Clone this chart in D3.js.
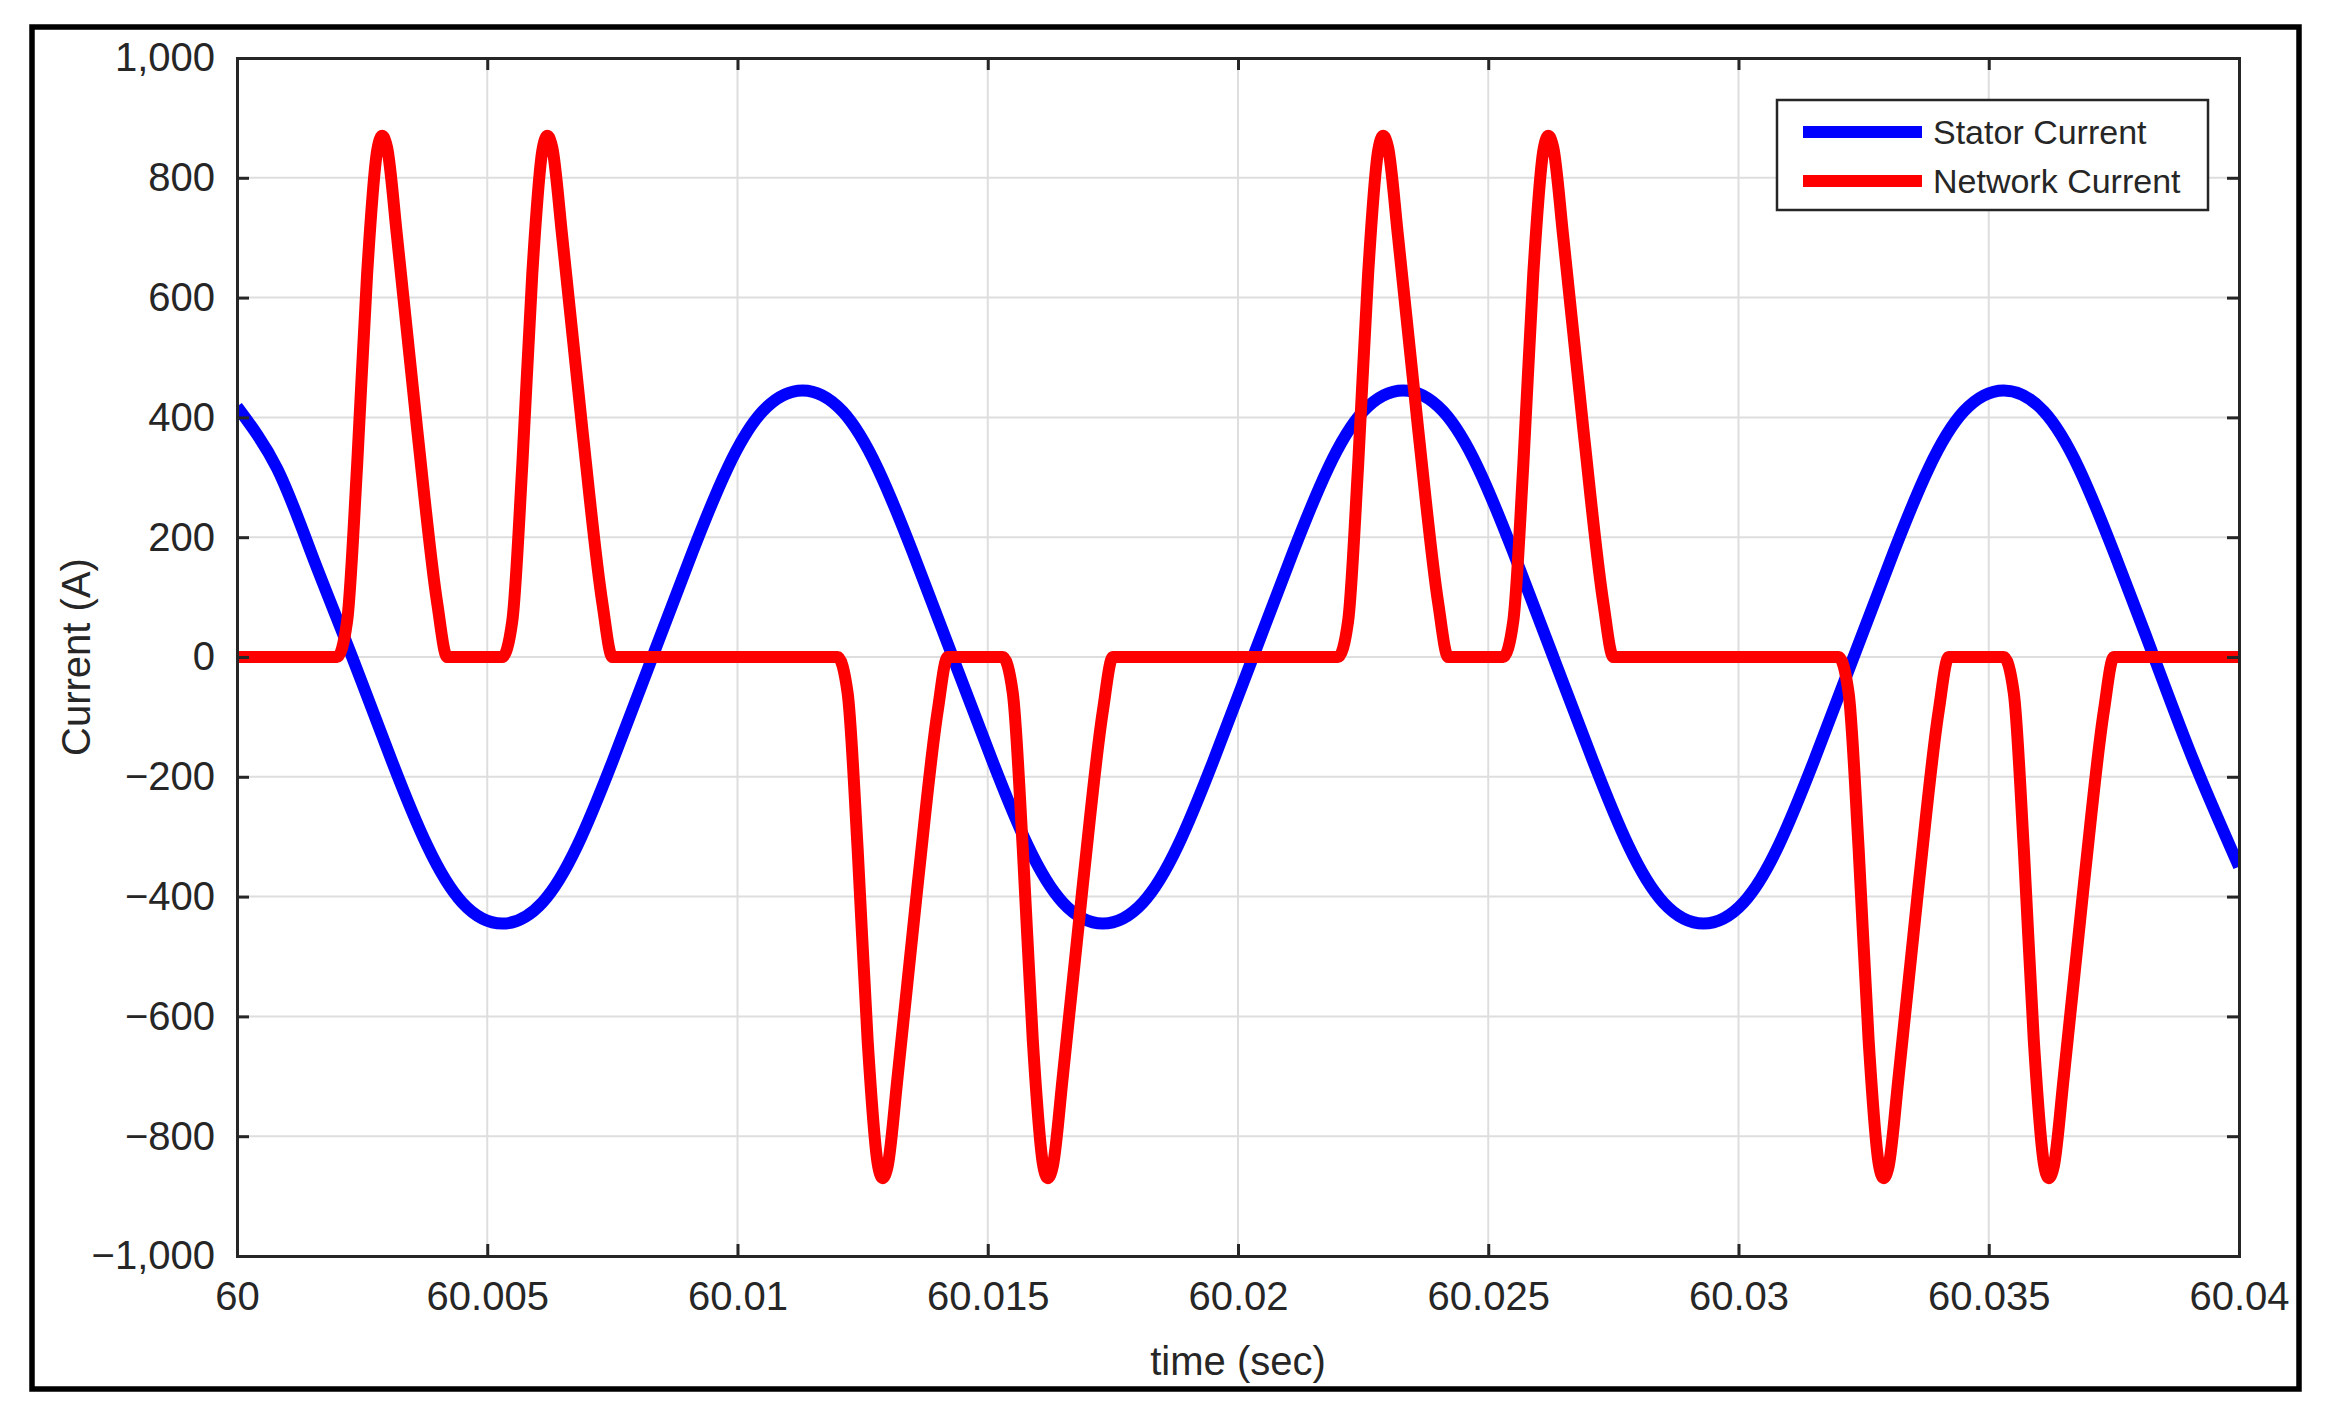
<!DOCTYPE html><html><head><meta charset="utf-8">
<script src="https://cdn.jsdelivr.net/npm/d3@7"></script>
<style>body{margin:0;background:#fff}svg{display:block}text{font-family:"Liberation Sans",Arial,sans-serif;fill:#262626}</style>
</head><body><svg id="c" width="2334" height="1426"></svg><script>
const xTicks=[60,60.005,60.01,60.015,60.02,60.025,60.03,60.035,60.04];
const xTickLabels=["60","60.005","60.01","60.015","60.02","60.025","60.03","60.035","60.04"];
const yTicks=[-1000,-800,-600,-400,-200,0,200,400,600,800,1000];
const seriesNames=["Stator Current","Network Current"];
const seriesColors=["#0000ff","#ff0000"];
// Stator current samples [time offset from 60 s, current A]
const statorT=[0,0.0008,0.0015,0.0023,0.0031,0.0038,0.0045,0.0053,0.0061,0.0068,0.0075,0.0083,0.0091,0.0098,0.0105,0.0113,0.0121,0.0128,0.0135,0.0143,0.0151,0.0158,0.0165,0.0173,0.0181,0.0188,0.0195,0.0203,0.0211,0.0218,0.0225,0.0233,0.0241,0.0248,0.0255,0.0263,0.0271,0.0278,0.0285,0.0293,0.0301,0.0308,0.0315,0.0323,0.0331,0.0338,0.0345,0.0353,0.0361,0.0368,0.0375,0.0383,0.0391,0.04];
const statorI=[418,315,170,0,-175,-315,-410,-445,-410,-315,-175,0,175,315,410,445,410,315,175,0,-175,-315,-410,-445,-410,-315,-175,0,175,315,410,445,410,315,175,0,-175,-315,-410,-445,-410,-315,-175,0,175,315,410,445,410,315,175,0,-175,-350];
// Network current pulse shape (offset s, current A) and pulse start times
const pulseOff=[0,0.0002,0.0004,0.0006,0.0008,0.0009,0.0010,0.0012,0.0016,0.0020,0.0022];
const pulseVal=[0,60,320,640,845,870,850,700,380,90,0];
const pulseStart=[0.0020,0.0053,0.0120,0.0153,0.0220,0.0253,0.0320,0.0353];
const pulseSign=[1,1,-1,-1,1,1,-1,-1];

const svg=d3.select("#c");
const L=237,T=58,R=2239,B=1256;
const x=d3.scaleLinear().domain([60,60.04]).range([L,R]);
const y=d3.scaleLinear().domain([-1000,1000]).range([B,T]);
svg.append("rect").attr("x",32).attr("y",27).attr("width",2267).attr("height",1362).attr("fill","none").attr("stroke","#000").attr("stroke-width",5.5);
const g=svg.append("g");
g.selectAll(".gx").data(xTicks.slice(1,-1)).join("line").attr("x1",d=>x(d)).attr("x2",d=>x(d)).attr("y1",T).attr("y2",B).attr("stroke","#dedede").attr("stroke-width",2);
g.selectAll(".gy").data(yTicks.slice(1,-1)).join("line").attr("y1",d=>y(d)).attr("y2",d=>y(d)).attr("x1",L).attr("x2",R).attr("stroke","#dedede").attr("stroke-width",2);
// build network data
const net=[[60,0]];
pulseStart.forEach((s,i)=>pulseOff.forEach((o,j)=>net.push([60+s+o,pulseSign[i]*pulseVal[j]])));
net.push([60.04,0]);
const stator=statorT.map((t,i)=>[60+t,statorI[i]]);
const clip=svg.append("clipPath").attr("id","cp").append("rect").attr("x",L).attr("y",T).attr("width",R-L).attr("height",B-T);
const ln=d3.line().x(d=>x(d[0])).y(d=>y(d[1]));
g.append("path").datum(stator).attr("d",ln.curve(d3.curveNatural)).attr("fill","none").attr("stroke",seriesColors[0]).attr("stroke-width",12).attr("clip-path","url(#cp)");
g.append("path").datum(net).attr("d",d3.line().x(d=>x(d[0])).y(d=>y(d[1])).curve(d3.curveMonotoneX)).attr("fill","none").attr("stroke",seriesColors[1]).attr("stroke-width",12).attr("stroke-linejoin","round").attr("clip-path","url(#cp)");
// axes
const ax=d3.axisBottom(x).tickValues(xTicks).tickFormat((d,i)=>xTickLabels[i]).tickSize(-12).tickPadding(26);
const ax2=d3.axisTop(x).tickValues(xTicks).tickFormat("").tickSize(-12);
const ay=d3.axisLeft(y).tickValues(yTicks).tickSize(-12).tickPadding(22);
const ay2=d3.axisRight(y).tickValues(yTicks).tickFormat("").tickSize(-12);
[[ax,`translate(0,${B})`],[ax2,`translate(0,${T})`],[ay,`translate(${L},0)`],[ay2,`translate(${R},0)`]].forEach(([a,tr])=>{
 const s=svg.append("g").attr("transform",tr).call(a);
 s.select(".domain").attr("stroke","#262626").attr("stroke-width",3);
 s.selectAll(".tick line").attr("stroke","#262626").attr("stroke-width",3);
 s.selectAll("text").attr("font-size",40).attr("fill","#262626").style("font-family","Liberation Sans, Arial, sans-serif");
});
svg.append("text").attr("x",(L+R)/2).attr("y",1375).attr("text-anchor","middle").attr("font-size",40).text("time (sec)");
svg.append("text").attr("transform",`translate(90,${(T+B)/2}) rotate(-90)`).attr("text-anchor","middle").attr("font-size",40).text("Current (A)");
// legend
const lg=svg.append("g");
lg.append("rect").attr("x",1777).attr("y",100).attr("width",431).attr("height",110).attr("fill","#fff").attr("stroke","#262626").attr("stroke-width",2.5);
seriesNames.forEach((n,i)=>{
 const yy=132+i*49;
 lg.append("line").attr("x1",1803).attr("x2",1922).attr("y1",yy).attr("y2",yy).attr("stroke",seriesColors[i]).attr("stroke-width",12);
 lg.append("text").attr("x",1933).attr("y",yy+12).attr("font-size",34).text(n);
});
</script></body></html>
